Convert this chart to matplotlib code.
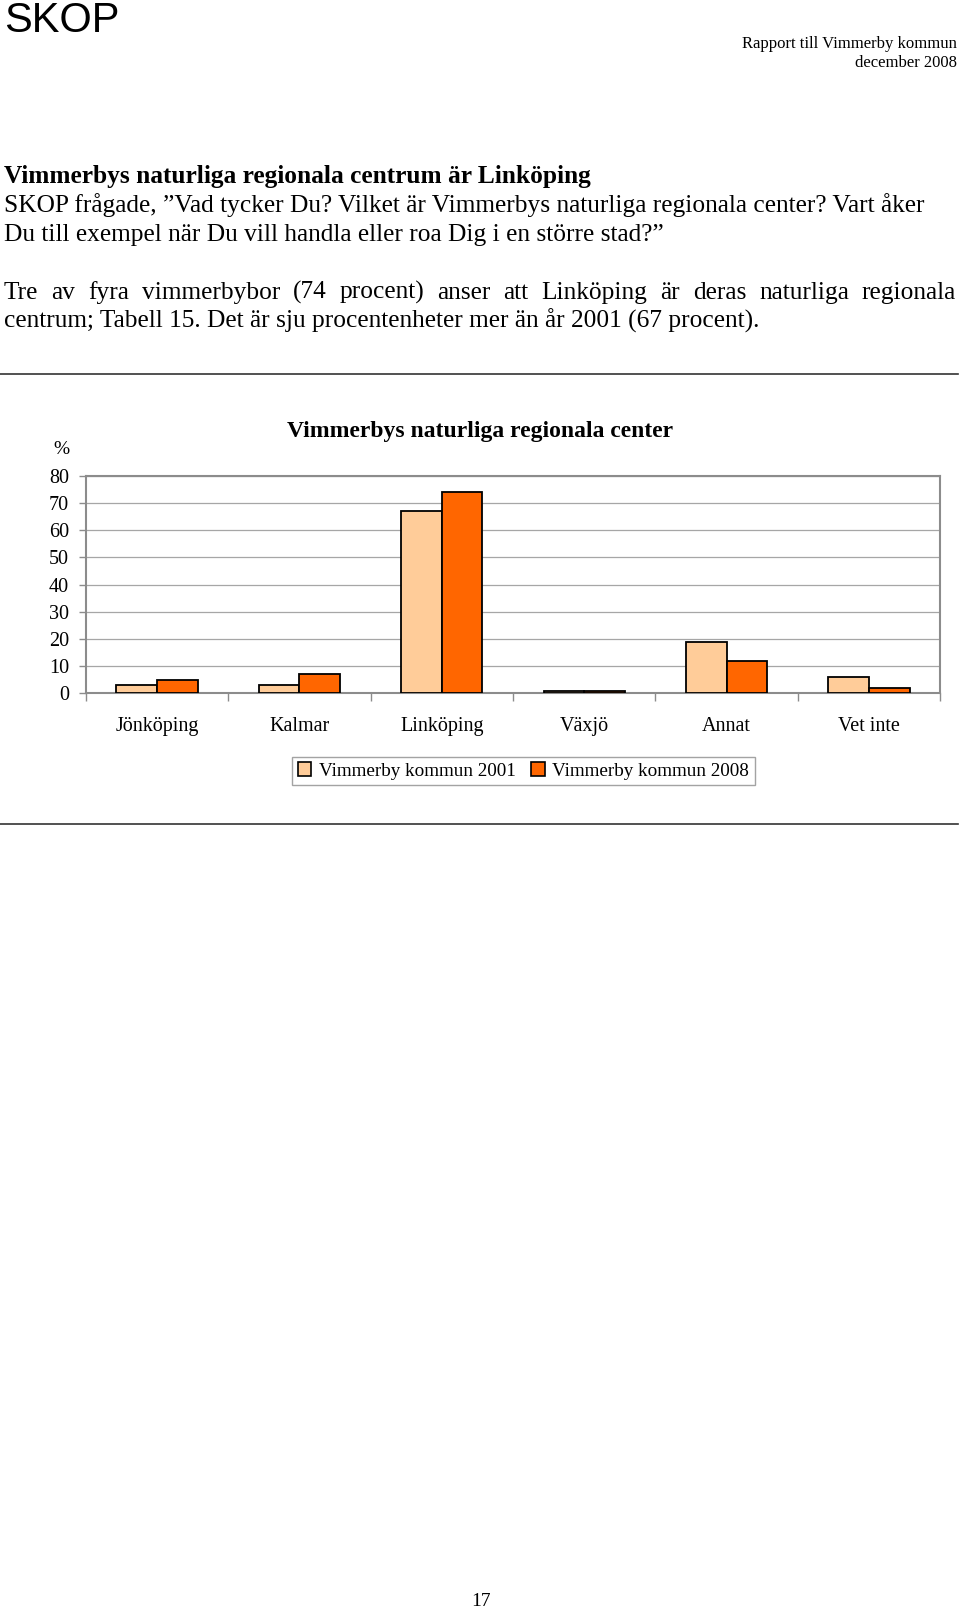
import matplotlib
matplotlib.use("Agg")
import matplotlib.pyplot as plt
from matplotlib.patches import Patch
from matplotlib.lines import Line2D
import numpy as np

W, H = 960, 1609

categories = ["Jönköping", "Kalmar", "Linköping", "Växjö", "Annat", "Vet inte"]
values_2001 = [3, 3, 67, 1, 19, 6]
values_2008 = [5, 7, 74, 1, 12, 2]
series_names = ["Vimmerby kommun 2001", "Vimmerby kommun 2008"]
yticks = [0, 10, 20, 30, 40, 50, 60, 70, 80]

c2001 = "#FFCC99"
c2008 = "#FF6600"
grey = "#8C8C8C"
serif = "Liberation Serif"

fig = plt.figure(figsize=(W / 100, H / 100), dpi=100)


def fx(x):
    return x / W


def fy(y):
    return 1 - y / H


# sidhuvud
fig.text(fx(4), fy(21), "SKOP", family="Liberation Sans", fontsize=30, va="center", ha="left")
fig.text(fx(957), fy(44), "Rapport till Vimmerby kommun", family=serif, fontsize=12, ha="right", va="center")
fig.text(fx(957), fy(63), "december 2008", family=serif, fontsize=12, ha="right", va="center")

# brödtext
body = 18.3
fig.text(fx(4), fy(183), "Vimmerbys naturliga regionala centrum är Linköping", family=serif,
         fontsize=body, weight="bold", va="baseline")
fig.text(fx(4), fy(212), "SKOP frågade, \u201dVad tycker Du? Vilket är Vimmerbys naturliga regionala center? Vart åker",
         family=serif, fontsize=body, va="baseline")
fig.text(fx(4), fy(241), "Du till exempel när Du vill handla eller roa Dig i en större stad?\u201d",
         family=serif, fontsize=body, va="baseline")

# marginaljusterad rad
words = "Tre av fyra vimmerbybor (74 procent) anser att Linköping är deras naturliga regionala".split()
renderer = fig.canvas.get_renderer()
arts = [fig.text(0, fy(299), w, family=serif, fontsize=body, va="baseline") for w in words]
widths = [a.get_window_extent(renderer).width for a in arts]
left, right = 4, 956
gap = (right - left - sum(widths)) / (len(words) - 1)
x = left
for a, wd in zip(arts, widths):
    a.set_x(fx(x))
    x += wd + gap
fig.text(fx(4), fy(328), "centrum; Tabell 15. Det är sju procentenheter mer än år 2001 (67 procent).",
         family=serif, fontsize=body, va="baseline")

# linjer runt diagrammet
for yl in (374, 824):
    fig.add_artist(Line2D([0, fx(958)], [fy(yl), fy(yl)], transform=fig.transFigure, color="#333333", lw=1.2))

# diagram
ax = fig.add_axes([fx(85.7), fy(693.3), fx(940.3) - fx(85.7), fy(476) - fy(693.3)])
xpos = np.arange(len(categories))
bw = 1 / 3.5
ax.bar(xpos - bw / 2, values_2001, bw, color=c2001, edgecolor="black", lw=1.3, zorder=3)
ax.bar(xpos + bw / 2, values_2008, bw, color=c2008, edgecolor="black", lw=1.3, zorder=3)
ax.set_xlim(-0.5, len(categories) - 0.5)
ax.set_ylim(0, 80)
ax.set_yticks(yticks)
ax.set_yticklabels([str(t) for t in yticks], family=serif, fontsize=14.5)
ax.set_xticks(xpos)
ax.set_xticklabels(categories, family=serif, fontsize=14.5)
ax.set_xticks(np.arange(-0.5, len(categories)), minor=True)
ax.tick_params(axis="x", which="major", length=0, pad=17)
ax.tick_params(axis="x", which="minor", length=6, color=grey, width=1)
ax.tick_params(axis="y", length=5, color=grey, width=1, pad=7)
ax.yaxis.grid(True, color="#A6A6A6", lw=0.9, zorder=0)
for s in ax.spines.values():
    s.set_color(grey)
    s.set_linewidth(1.5)

fig.text(fx(480), fy(432), "Vimmerbys naturliga regionala center", family=serif, fontsize=17,
         weight="bold", ha="center", va="center")
fig.text(fx(61), fy(449), "%", family=serif, fontsize=14, ha="center", va="center")

handles = [Patch(facecolor=c2001, edgecolor="black", lw=1.2),
           Patch(facecolor=c2008, edgecolor="black", lw=1.2)]
leg = fig.legend(handles, series_names, loc="center", bbox_to_anchor=(fx(523.5), fy(771)), ncol=2,
                 prop={"family": serif, "size": 13.8}, frameon=True, fancybox=False,
                 handlelength=0.7, handleheight=0.7, handletextpad=0.4, columnspacing=0.8,
                 borderpad=0.3, borderaxespad=0)
leg.get_frame().set_edgecolor(grey)
leg.get_frame().set_linewidth(1)

fig.text(fx(481), fy(1601), "17", family=serif, fontsize=14, ha="center", va="center")

fig.savefig("out.png", dpi=100)
